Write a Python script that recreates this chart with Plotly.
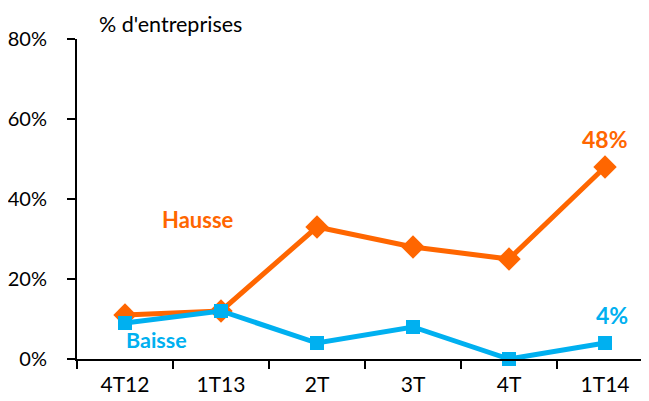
import plotly.graph_objects as go

# trimestres
quarters = ["4T12", "1T13", "2T", "3T", "4T", "1T14"]
# % d'entreprises
hausse = [11, 12, 33, 28, 25, 48]
baisse = [9, 12, 4, 8, 0, 4]
y_ticks = [0, 20, 40, 60, 80]
y_tick_labels = ["0%", "20%", "40%", "60%", "80%"]

ORANGE = "#FF6600"
BLUE = "#00B0F0"
FONT = "Lato, 'Open Sans', sans-serif"

fig = go.Figure()
fig.add_trace(go.Scatter(
    x=quarters, y=hausse, name="Hausse", mode="lines+markers",
    line=dict(color=ORANGE, width=5),
    marker=dict(symbol="diamond", size=18, color=ORANGE),
    cliponaxis=False,
))
fig.add_trace(go.Scatter(
    x=quarters, y=baisse, name="Baisse", mode="lines+markers",
    line=dict(color=BLUE, width=5),
    marker=dict(symbol="square", size=14, color=BLUE),
    cliponaxis=False,
))

fig.add_annotation(x=0.76, y=35, text="<b>Hausse</b>", showarrow=False,
                   font=dict(color=ORANGE, size=22, family=FONT))
fig.add_annotation(x=0.33, y=4.75, text="<b>Baisse</b>", showarrow=False,
                   font=dict(color=BLUE, size=21.5, family=FONT))
fig.add_annotation(x=5, y=55, text="<b>%d%%</b>" % hausse[-1], showarrow=False,
                   font=dict(color=ORANGE, size=23, family=FONT))
fig.add_annotation(x=5.07, y=11, text="<b>%d%%</b>" % baisse[-1], showarrow=False,
                   font=dict(color=BLUE, size=23, family=FONT))
fig.add_annotation(xref="paper", yref="paper", x=0.035, y=1.047, xanchor="left",
                   yanchor="middle", text="% d'entreprises", showarrow=False,
                   font=dict(color="black", size=21.5, family=FONT))

# the page puts the figure 8 px in from the top-left corner
fig.update_layout(
    width=649, height=401,
    margin=dict(l=69, r=8, t=31, b=50),
    plot_bgcolor="white", paper_bgcolor="white",
    showlegend=False,
    font=dict(family=FONT, size=20, color="black"),
)
fig.update_xaxes(
    range=[-0.5, 5.458], showgrid=False, showline=True, linecolor="black",
    linewidth=2, ticks="outside", tickson="boundaries", ticklen=8,
    tickwidth=2, tickcolor="black", ticklabelstandoff=6, automargin=False,
    tickfont=dict(size=21),
)
fig.update_yaxes(
    range=[0, 80], tickvals=y_ticks, ticktext=y_tick_labels, showgrid=False,
    zeroline=False, showline=True, linecolor="black", linewidth=2,
    ticks="outside", ticklen=8, tickwidth=2, tickcolor="black",
    ticklabelstandoff=16, automargin=False,
)

fig.write_html("out.html")
